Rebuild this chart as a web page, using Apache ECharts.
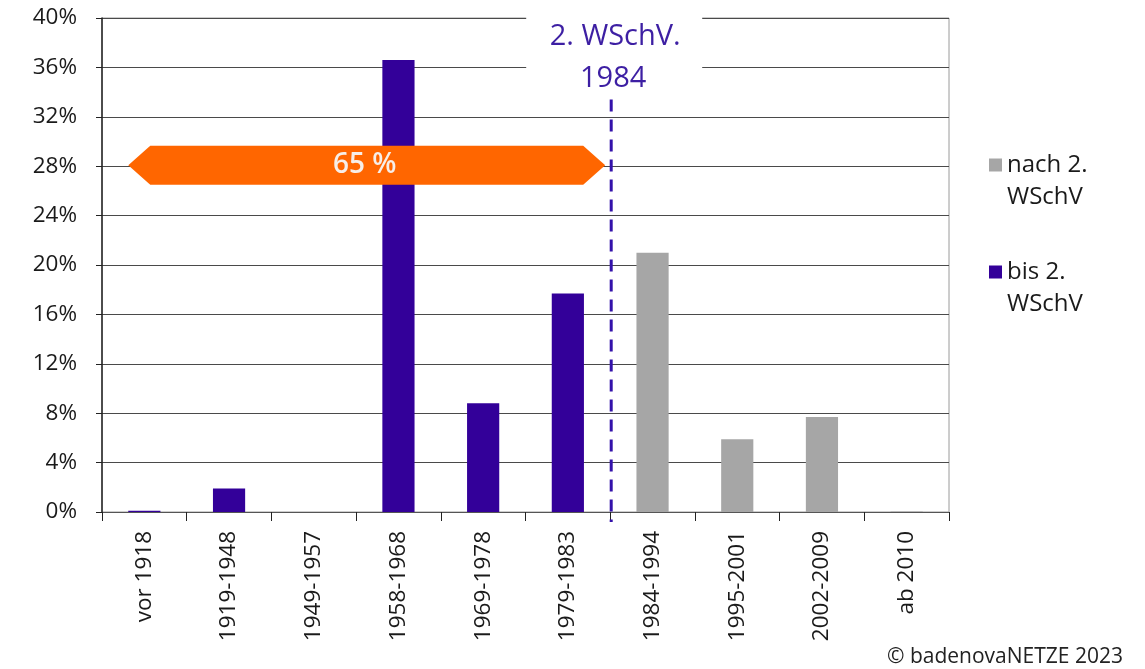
<!DOCTYPE html>
<html>
<head>
<meta charset="utf-8">
<script src="https://cdn.jsdelivr.net/npm/echarts@6/dist/echarts.min.js"></script>
<style>html,body{margin:0;padding:0;background:#fff}#c{width:1145px;height:669px}</style>
</head>
<body>
<div id="c"></div>
<script>
var categories = ['vor 1918','1919-1948','1949-1957','1958-1968','1969-1978','1979-1983','1984-1994','1995-2001','2002-2009','ab 2010'];
var bisValues  = [0.1, 1.9, 0, 36.6, 8.8, 17.7, '-', '-', '-', '-'];
var nachValues = ['-', '-', '-', '-', '-', '-', 21.0, 5.9, 7.7, 0.05];
var seriesNames = ['nach 2. WSchV', 'bis 2. WSchV'];
var yTicks = [0, 4, 8, 12, 16, 20, 24, 28, 32, 36, 40];
var arrowText = '65 %';
var arrowLevel = 28;
var markerText = ['2. WSchV.', '1984'];

var FONT = '"Open Sans", "Noto Sans", sans-serif';
var chart = echarts.init(document.getElementById('c'));

function renderAnnot(params, api) {
  var c0 = api.coord([0, arrowLevel]);
  var bw = api.size([1, 0])[0];
  var cy = c0[1] - 1;
  var leftTip = c0[0] - 0.19 * bw;
  var boundary = api.coord([5, 0])[0] + 0.5 * bw;
  var rightTip = boundary - 5;
  var half = 19.5, notch = 22;
  var top40 = api.coord([0, 40])[1];
  var base = api.coord([0, 0])[1];
  var lineTop = api.coord([0, 33.4])[1];
  return {
    type: 'group',
    children: [
      { type: 'polygon', shape: { points: [
          [leftTip, cy], [leftTip + notch, cy - half], [rightTip - notch, cy - half],
          [rightTip, cy], [rightTip - notch, cy + half], [leftTip + notch, cy + half]
        ] }, style: { fill: '#ff6600' } },
      { type: 'text', style: { text: arrowText, x: (leftTip + rightTip) / 2 - 2, y: cy,
          fill: '#f7eee8', font: '600 28px ' + FONT, align: 'center', verticalAlign: 'middle' } },
      { type: 'rect', shape: { x: boundary - 84, y: top40 - 1, width: 176, height: 78 }, style: { fill: '#fff' } },
      { type: 'text', style: { text: markerText[0], x: boundary + 5, y: top40 + 19,
          fill: '#3d1fa3', font: '29px ' + FONT, align: 'center', verticalAlign: 'middle' } },
      { type: 'text', style: { text: markerText[1], x: boundary + 3, y: top40 + 61,
          fill: '#3d1fa3', font: '29px ' + FONT, align: 'center', verticalAlign: 'middle' } },
      { type: 'line', shape: { x1: boundary + 1, y1: lineTop, x2: boundary + 1, y2: base + 10 },
        style: { stroke: '#3311aa', lineWidth: 3, lineDash: [12, 8] } }
    ]
  };
}

chart.setOption({
  animation: false,
  backgroundColor: '#fff',
  grid: { left: 102, right: 196, top: 18, bottom: 157, show: true, borderColor: '#9a9a9a', borderWidth: 1, backgroundColor: 'transparent' },
  legend: {
    orient: 'vertical', left: 989, top: 117, padding: 0,
    data: seriesNames, itemWidth: 13, itemHeight: 13, itemGap: 11,
    icon: 'rect',
    formatter: function (n) { return ' \n' + n.replace(' WSchV', '\nWSchV'); },
    textStyle: { fontFamily: FONT, fontSize: 24, color: '#1a1a1a', lineHeight: 32 }
  },
  xAxis: {
    type: 'category', data: categories,
    axisLine: { lineStyle: { color: '#555', width: 1 } },
    axisTick: { show: true, length: 9, lineStyle: { color: '#222' } },
    axisLabel: { rotate: 90, fontFamily: FONT, fontSize: 22.5, color: '#1a1a1a', margin: 19, interval: 0 }
  },
  yAxis: {
    type: 'value', min: 0, max: 40, interval: 4,
    axisLine: { show: true, lineStyle: { color: '#222', width: 1.5 } },
    axisTick: { show: true, length: 6, lineStyle: { color: '#222' } },
    axisLabel: { formatter: '{value}%', fontFamily: FONT, fontSize: 22.5, color: '#1a1a1a', margin: 25 },
    splitLine: { lineStyle: { color: '#4a4a4a', width: 1.2 } }
  },
  series: [
    { name: seriesNames[0], type: 'bar', stack: 'a', data: nachValues, barWidth: '38%',
      itemStyle: { color: '#a6a6a6' } },
    { name: seriesNames[1], type: 'bar', stack: 'a', data: bisValues, barWidth: '38%',
      itemStyle: { color: '#330099' } },
    { type: 'custom', data: [[0, arrowLevel]], renderItem: renderAnnot, z: 10, silent: true,
      encode: { x: 0, y: 1 } }
  ],
  graphic: [
    { type: 'text', right: 22, bottom: 1, style: { text: '\u00a9 badenovaNETZE 2023', font: '21px ' + FONT, fill: '#222' } }
  ]
});
</script>
</body>
</html>
